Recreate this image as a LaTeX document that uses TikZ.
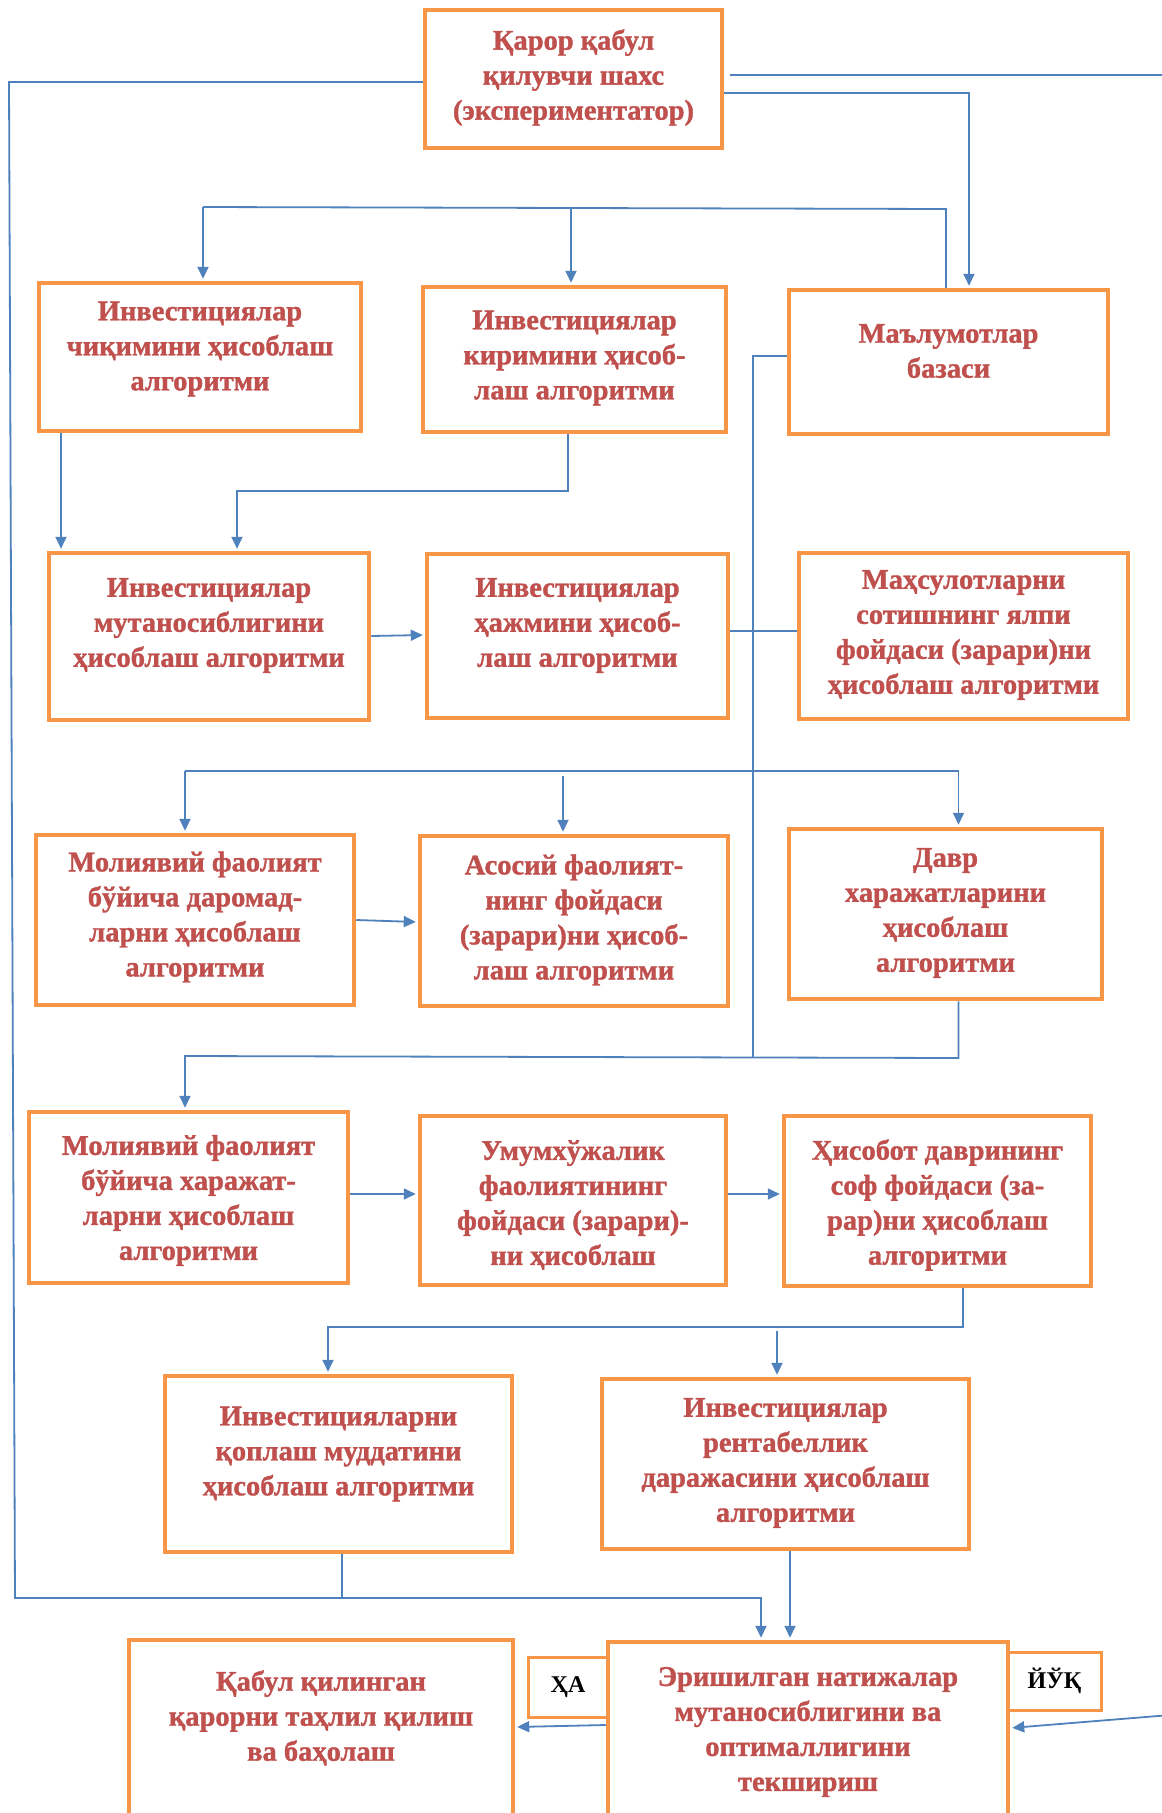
\documentclass[tikz,border=0pt]{standalone}
\usepackage{fontspec}
\setmainfont{Liberation Serif}
\newfontfamily\boxfont[FakeBold=1.2]{Liberation Serif}
\usetikzlibrary{arrows.meta}
\definecolor{boxor}{HTML}{F79646}
\definecolor{txtred}{HTML}{C0504D}
\definecolor{lnblue}{HTML}{4F81BD}
\begin{document}
\begin{tikzpicture}[x=1pt,y=-1pt,
  box/.style={draw=boxor, line width=4.5pt, rectangle, fill=white, inner sep=0pt},
  lblbox/.style={draw=boxor, line width=3pt, rectangle, fill=white, inner sep=0pt,
     font=\fontsize{24}{28}\selectfont\bfseries, text=black},
  txt/.style={text=txtred, font=\boxfont\fontsize{28.5}{35}\selectfont\bfseries, align=center, inner sep=0pt},
  conn/.style={draw=lnblue, line width=1.8pt},
  arr/.style={conn, -{Triangle[length=12pt,width=11pt]}, shorten >=2pt},
  ]
\useasboundingbox (0,0) rectangle (1162,1813);
\clip (0,0) rectangle (1162,1813);
\fill[white] (0,0) rectangle (1162,1813);

% boxes
\node[box, minimum width=297, minimum height=138] (T) at (573.5,79) {};
\node[box, minimum width=322, minimum height=148] (A) at (200,357) {};
\node[box, minimum width=303, minimum height=145] (B) at (574.5,359.5) {};
\node[box, minimum width=319, minimum height=144] (C) at (948.5,362) {};
\node[box, minimum width=320, minimum height=167] (D) at (209,636.5) {};
\node[box, minimum width=301, minimum height=164] (E) at (577.5,636) {};
\node[box, minimum width=329, minimum height=166] (F) at (963.5,636) {};
\node[box, minimum width=318, minimum height=170] (G) at (195,920) {};
\node[box, minimum width=308, minimum height=170] (H) at (574,921) {};
\node[box, minimum width=313, minimum height=170] (I) at (945.5,914) {};
\node[box, minimum width=319, minimum height=171] (J) at (188.5,1197.5) {};
\node[box, minimum width=306, minimum height=169] (K) at (573,1200.5) {};
\node[box, minimum width=307, minimum height=170] (L) at (937.5,1201) {};
\node[box, minimum width=347, minimum height=176] (M) at (338.5,1464) {};
\node[box, minimum width=367, minimum height=170] (N) at (785.5,1464) {};
\node[box, minimum width=384, minimum height=260] (O) at (321,1770) {};
\node[lblbox, minimum width=80, minimum height=60] (ha) at (568,1687) {ҲА};
\node[lblbox, minimum width=93, minimum height=58] (yok) at (1054.5,1681) {ЙЎҚ};
\node[box, minimum width=400, minimum height=260] (P) at (808,1772) {};

% texts
\node[txt] (Tt) at (573.5,77.5) {Қарор қабул\\қилувчи шахс\\(экспериментатор)};
\node[txt] (At) at (200,349) {Инвестициялар\\чиқимини ҳисоблаш\\алгоритми};
\node[txt] (Bt) at (574.5,358) {Инвестициялар\\киримини ҳисоб-\\лаш алгоритми};
\node[txt] (Ct) at (948.5,351) {Маълумотлар\\базаси};
\node[txt] (Dt) at (209,625.5) {Инвестициялар\\мутаносиблигини\\ҳисоблаш алгоритми};
\node[txt] (Et) at (577.5,625.5) {Инвестициялар\\ҳажмини ҳисоб-\\лаш алгоритми};
\node[txt] (Ft) at (963.5,635) {Маҳсулотларни\\сотишнинг ялпи\\фойдаси (зарари)ни\\ҳисоблаш алгоритми};
\node[txt] (Gt) at (195,917) {Молиявий фаолият\\бўйича даромад-\\ларни ҳисоблаш\\алгоритми};
\node[txt] (Ht) at (574,920) {Асосий фаолият-\\нинг фойдаси\\(зарари)ни ҳисоб-\\лаш алгоритми};
\node[txt] (It) at (945.5,913) {Давр\\харажатларини\\ҳисоблаш\\алгоритми};
\node[txt] (Jt) at (188.5,1200.5) {Молиявий фаолият\\бўйича харажат-\\ларни ҳисоблаш\\алгоритми};
\node[txt] (Kt) at (573,1205) {Умумхўжалик\\фаолиятининг\\фойдаси (зарари)-\\ни ҳисоблаш};
\node[txt] (Lt) at (937.5,1205) {Ҳисобот даврининг\\соф фойдаси (за-\\рар)ни ҳисоблаш\\алгоритми};
\node[txt] (Mt) at (338.5,1454) {Инвестицияларни\\қоплаш муддатини\\ҳисоблаш алгоритми};
\node[txt] (Nt) at (785.5,1463) {Инвестициялар\\рентабеллик\\даражасини ҳисоблаш\\алгоритми};
\node[txt] (Ot) at (321,1718) {Қабул қилинган\\қарорни таҳлил қилиш\\ва баҳолаш};
\node[txt] (Pt) at (808,1732) {Эришилган натижалар\\мутаносиблигини ва\\оптималлигини\\текшириш};

% connectors
\draw[arr] (T.west |- 0,82) -- (9,82) -- (15,1598) -- (761,1598) -- (761,0 |- P.north);
\draw[conn] (342,0 |- M.south) -- (342,1598);
\draw[arr] (790,0 |- N.south) -- (790,0 |- P.north);
\draw[conn] ([xshift=6pt]T.east |- 0,75) -- (1170,75);
\draw[arr] (T.east |- 0,93) -- (969,93) -- (969,0 |- C.north);
\draw[conn] (946,0 |- C.north) -- (946,209) -- (203,207);
\draw[arr] (203,207) -- (203,0 |- A.north);
\draw[arr] (571,209) -- (571,0 |- B.north);
\draw[arr] (61,0 |- A.south) -- (61,0 |- D.north);
\draw[arr] (568,0 |- B.south) -- (568,491) -- (237,491) -- (237,0 |- D.north);
\draw[arr] (D.east |- 0,636) -- (E.west |- 0,635);
\draw[conn] (E.east |- 0,631) -- (F.west |- 0,631);
\draw[conn] (C.west |- 0,356) -- (753,356) -- (753,1057);
\draw[conn] (185,771) -- (958.5,771);
\draw[arr] (185,771) -- (185,0 |- G.north);
\draw[arr] (563,776) -- (563,0 |- H.north);
\draw[arr] (958.5,771) -- (958.5,0 |- I.north);
\draw[arr] (G.east |- 0,920) -- (H.west |- 0,922);
\draw[arr] (958.5,0 |- I.south) -- (958.5,1058) -- (185,1056) -- (185,0 |- J.north);
\draw[arr] (J.east |- 0,1194) -- (K.west |- 0,1194);
\draw[arr] (K.east |- 0,1194) -- (L.west |- 0,1194);
\draw[arr] (963,0 |- L.south) -- (963,1327) -- (328,1327) -- (328,0 |- M.north);
\draw[arr] (777,1331) -- (777,0 |- N.north);
\draw[arr] (P.west |- 0,1725) -- (O.east |- 0,1727);
\draw[arr] (1170,1715) -- (P.east |- 0,1728);
\end{tikzpicture}
\end{document}
